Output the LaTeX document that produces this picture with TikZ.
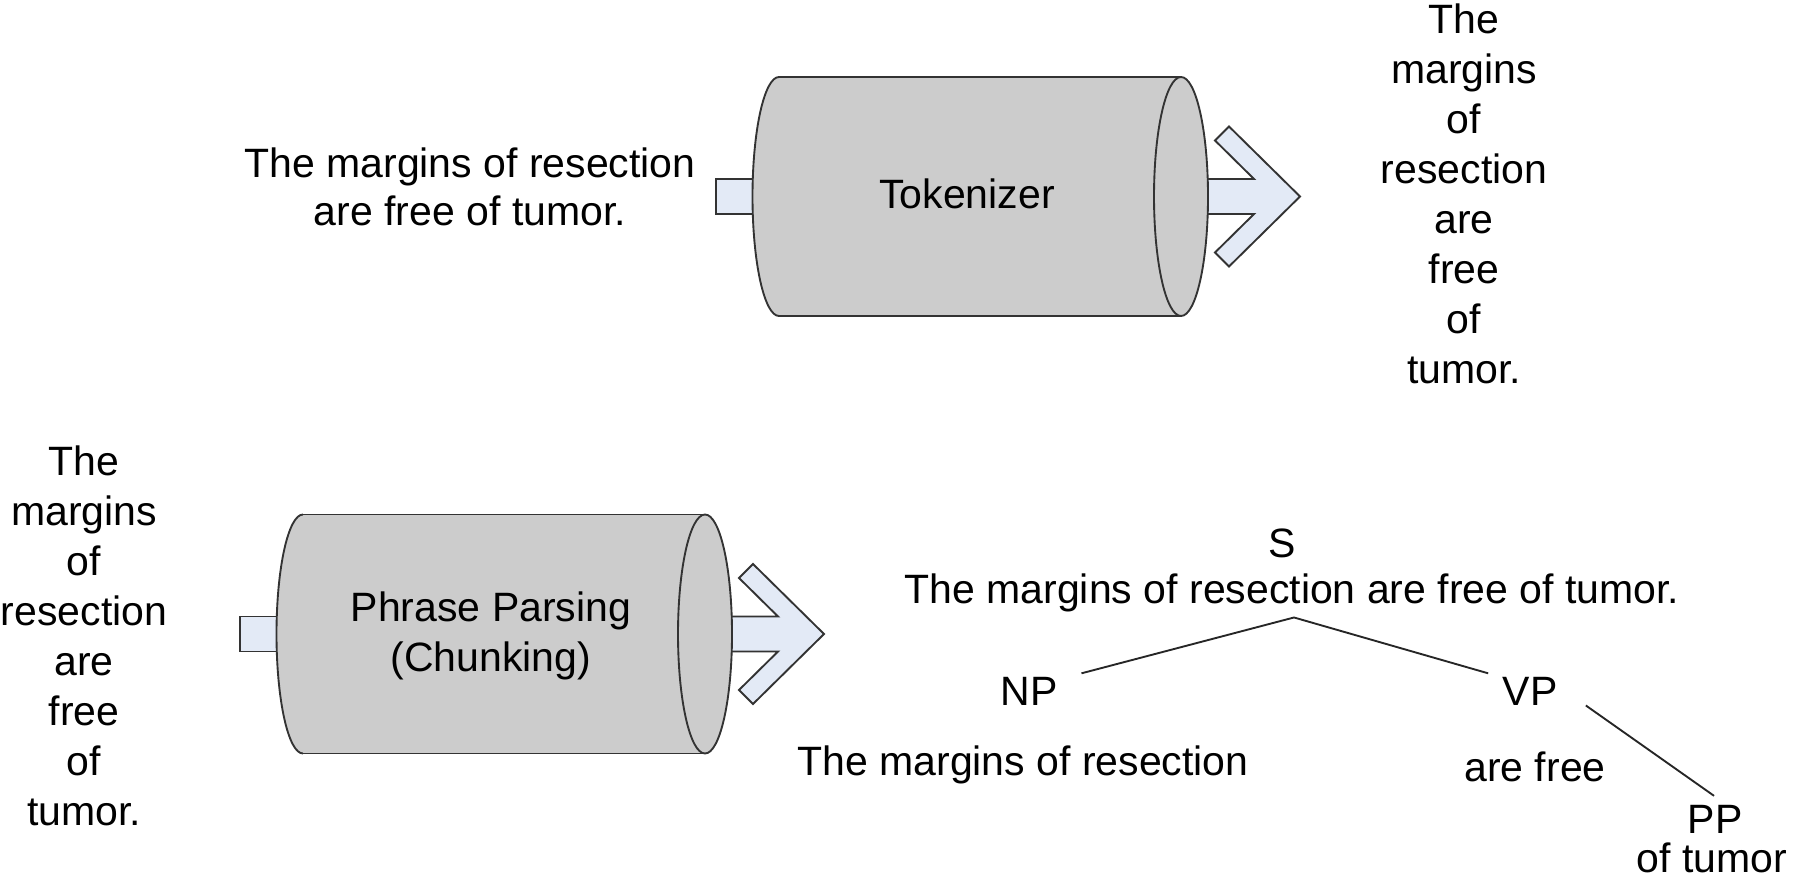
\documentclass[tikz,border=0pt]{standalone}
\usepackage{fontspec}
\setmainfont{Liberation Sans}
\usetikzlibrary{calc}
\definecolor{drumgray}{HTML}{CCCCCC}
\definecolor{pipeblue}{HTML}{E3EAF6}
\newcommand{\drawDrum}[1]{%
  \begin{scope}[shift={#1}]
    % feed tab and output chevron
    \filldraw[pipe, fill=pipeblue] (-0.63,-0.175) rectangle (-0.2,0.175);
    \filldraw[pipe, fill=pipeblue] (4.26,0.175) -- (4.75,0.175) -- (4.36,0.56) -- (4.50,0.70)
      -- (5.21,0) -- (4.50,-0.70) -- (4.36,-0.56) -- (4.75,-0.175) -- (4.26,-0.175) -- cycle;
    % drum body
    \fill[drumgray] (0,-1.195) rectangle (4.02,1.195);
    \fill[drumgray] (0,0) ellipse[x radius=0.265, y radius=1.195];
    \draw[pipe] (0,1.195) -- (4.02,1.195) (0,-1.195) -- (4.02,-1.195);
    \draw[pipe] (0,1.195) arc[start angle=90, end angle=270, x radius=0.265, y radius=1.195];
    \filldraw[pipe, fill=drumgray] (4.02,0) ellipse[x radius=0.27, y radius=1.195];
  \end{scope}}

\begin{document}
\begin{tikzpicture}[x=1.5cm, y=1.5cm,
  pipe/.style={draw=black!80, line width=0.8pt},
  words/.style={align=center, inner sep=0pt, font=\fontsize{17.5}{21.3}\selectfont},
  tag/.style={inner sep=0pt, anchor=base, font=\fontsize{17.5}{21.3}\selectfont},
  branch/.style={draw=black!85, line width=0.8pt}]
  \useasboundingbox (0,0) rectangle (17.94,-8.78);

  % Tokenizer
  \drawDrum{(7.79,-1.965)}
  \node[words, font=\fontsize{17.5}{20.5}\selectfont] (intext) at (4.70,-1.865)
    {The margins of resection\\are free of tumor.};
  \node[tag] (tok) at (9.67,-2.09) {Tokenizer};
  \node[words] (tokens) at (14.64,-1.94)
    {The\\margins\\of\\resection\\are\\free\\of\\tumor.};

  % Phrase Parsing
  \drawDrum{(3.03,-6.34)}
  \node[words] (chunkin) at (0.84,-6.36)
    {The\\margins\\of\\resection\\are\\free\\of\\tumor.};
  \node[words, font=\fontsize{17.5}{21.3}\selectfont] (chunker) at (4.91,-6.355)
    {Phrase Parsing\\(Chunking)};

  % Parse tree
  \node[tag] (s) at (12.82,-5.575) {S};
  \node[tag] (sent) at (12.92,-6.035) {The margins of resection are free of tumor.};
  \node[tag] (np) at (10.29,-7.05) {NP};
  \node[tag] (nptext) at (10.23,-7.75) {The margins of resection};
  \node[tag] (vp) at (15.30,-7.05) {VP};
  \node[tag] (vptext) at (15.35,-7.81) {are free};
  \node[tag] (pp) at (17.15,-8.33) {PP};
  \node[tag] (pptext) at (17.12,-8.72) {of tumor};

  \draw[branch] ($(np.north east)+(0.235,0.03)$) -- ($(sent.south)+(0.02,-0.05)$)
    -- ($(vp.north west)+(-0.14,0.03)$);
  \draw[branch] ($(vp.south east)+(0.28,0)$) -- ($(pp.north)+(-0.01,0.085)$);
\end{tikzpicture}
\end{document}
